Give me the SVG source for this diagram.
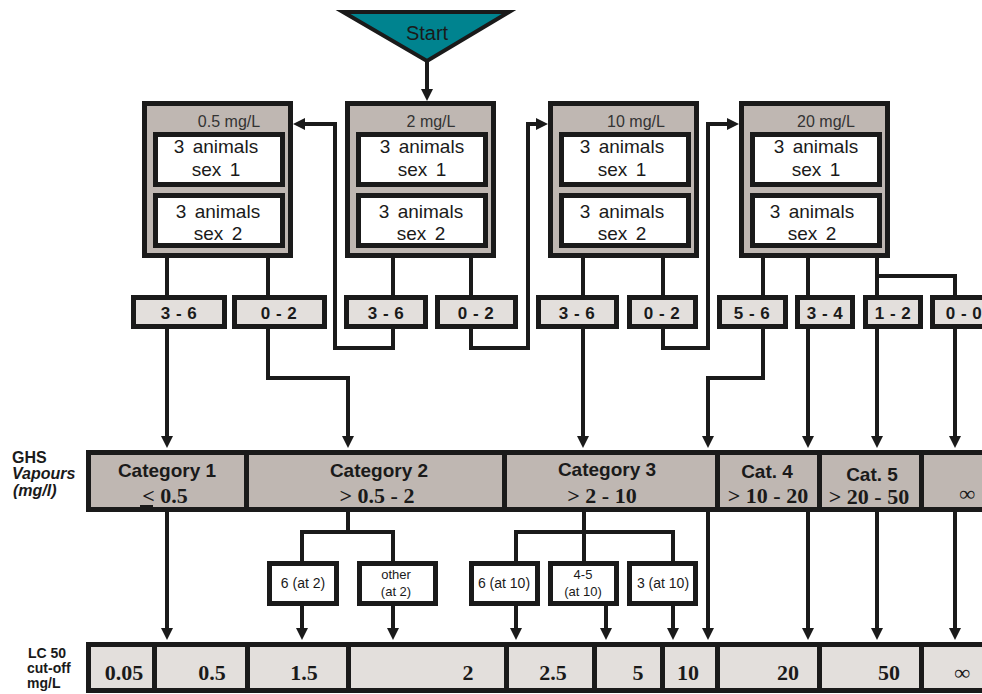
<svg xmlns="http://www.w3.org/2000/svg" width="982" height="694" viewBox="0 0 982 694">
<defs>
<marker id="ah" markerUnits="userSpaceOnUse" markerWidth="13" markerHeight="13" refX="2" refY="6.5" orient="auto">
<path d="M0,0.5 L12,6.5 L0,12.5 z" fill="#1a1a1a"/>
</marker>
<style>
.frame{fill:#bfb7b2;stroke:#1a1a1a;stroke-width:5}
.inner{fill:#ffffff;stroke:#1a1a1a;stroke-width:5}
.res{fill:#e3dfdc;stroke:#1a1a1a;stroke-width:5}
.cell{fill:#bfb7b2;stroke:#1a1a1a;stroke-width:5}
.lc{fill:#e3dfdc;stroke:#1a1a1a;stroke-width:5}
.sb{fill:#ffffff;stroke:#1a1a1a;stroke-width:5}
.ln{fill:none;stroke:#1a1a1a;stroke-width:4}
.arr{fill:none;stroke:#1a1a1a;stroke-width:4;marker-end:url(#ah)}
.t{font-family:"Liberation Sans",Arial,sans-serif;fill:#1a1a1a;text-anchor:middle}
.ttl{font-size:16px;fill:#333333}
.an{font-size:19px;word-spacing:3px}
.rt{font-size:17px;font-weight:bold;letter-spacing:0.5px}
.cat{font-size:19px;font-weight:bold}
.rng{font-family:"Liberation Serif","Times New Roman",serif;font-size:22px;font-weight:bold;fill:#1a1a1a;text-anchor:middle}
.sm{font-size:14px}
.sm2{font-size:13px}
.lbl{font-family:"Liberation Sans",Arial,sans-serif;font-weight:bold;fill:#1a1a1a}
</style>
</defs>

<g id="connectors">
<line class="arr" x1="427" y1="62" x2="427" y2="91"/>
<polyline class="arr" points="393,258 393,348 335,348 335,124 303,124"/>
<polyline class="arr" points="471,258 471,348 528,348 528,124 538,124"/>
<polyline class="arr" points="663,258 663,348 708,348 708,124 729,124"/>
<polyline class="arr" points="167,258 167,438"/>
<polyline class="arr" points="268,258 268,378 348,378 348,438"/>
<polyline class="arr" points="583,258 583,438"/>
<polyline class="arr" points="763,258 763,378 708,378 708,438"/>
<polyline class="arr" points="808,258 808,438"/>
<polyline class="arr" points="877,258 877,438"/>
<polyline class="arr" points="877,276 955,276 955,438"/>
<polyline class="arr" points="167,512 167,630"/>
<polyline class="ln" points="348,512 348,532"/>
<polyline class="ln" points="302,561 302,532 393,532 393,561"/>
<polyline class="arr" points="302,606 302,630"/>
<polyline class="arr" points="393,606 393,630"/>
<polyline class="ln" points="584,512 584,561"/>
<polyline class="ln" points="516,561 516,532 673,532 673,561"/>
<polyline class="arr" points="516,606 516,630"/>
<polyline class="arr" points="606,606 606,630"/>
<polyline class="arr" points="673,606 673,630"/>
<polyline class="arr" points="708,512 708,630"/>
<polyline class="arr" points="808,512 808,630"/>
<polyline class="arr" points="877,512 877,630"/>
<polyline class="arr" points="955,512 955,630"/>
</g>

<g id="start">
<polygon points="343,12 509,12 427,61" fill="#00838f" stroke="#1a1a1a" stroke-width="4" stroke-linejoin="miter"/>
<text class="t" x="427" y="40" font-size="20" fill="#222222">Start</text>
</g>

<g id="dose-0.5">
<rect class="frame" x="144.5" y="103.5" width="146" height="152"/>
<text class="t ttl" x="229" y="127">0.5 mg/L</text>
<rect class="inner" x="155.5" y="134.5" width="127" height="50"/>
<text class="t an" x="216" y="153">3 animals</text>
<text class="t an" x="216" y="176">sex 1</text>
<rect class="inner" x="155.5" y="195.5" width="127" height="50"/>
<text class="t an" x="218" y="218">3 animals</text>
<text class="t an" x="218" y="240">sex 2</text>
</g>

<g id="dose-2">
<rect class="frame" x="347.5" y="103.5" width="146" height="152"/>
<text class="t ttl" x="431" y="127">2  mg/L</text>
<rect class="inner" x="358.5" y="134.5" width="127" height="50"/>
<text class="t an" x="422" y="153">3 animals</text>
<text class="t an" x="422" y="176">sex 1</text>
<rect class="inner" x="358.5" y="195.5" width="127" height="50"/>
<text class="t an" x="421" y="218">3 animals</text>
<text class="t an" x="421" y="240">sex 2</text>
</g>

<g id="dose-10">
<rect class="frame" x="550.5" y="103.5" width="146" height="152"/>
<text class="t ttl" x="636" y="127">10 mg/L</text>
<rect class="inner" x="561.5" y="134.5" width="127" height="50"/>
<text class="t an" x="622" y="153">3 animals</text>
<text class="t an" x="622" y="176">sex 1</text>
<rect class="inner" x="561.5" y="195.5" width="127" height="50"/>
<text class="t an" x="622" y="218">3 animals</text>
<text class="t an" x="622" y="240">sex 2</text>
</g>

<g id="dose-20">
<rect class="frame" x="741.5" y="103.5" width="146" height="152"/>
<text class="t ttl" x="826" y="127">20 mg/L</text>
<rect class="inner" x="752.5" y="134.5" width="127" height="50"/>
<text class="t an" x="816" y="153">3 animals</text>
<text class="t an" x="816" y="176">sex 1</text>
<rect class="inner" x="752.5" y="195.5" width="127" height="50"/>
<text class="t an" x="812" y="218">3 animals</text>
<text class="t an" x="812" y="240">sex 2</text>
</g>

<g id="results">
<g id="r-05-36"><rect class="res" x="133.5" y="297.5" width="91" height="29"/><text class="t rt" x="179" y="319">3 - 6</text></g>
<g id="r-05-02"><rect class="res" x="234.5" y="297.5" width="90" height="29"/><text class="t rt" x="279" y="319">0 - 2</text></g>
<g id="r-2-36"><rect class="res" x="346.5" y="297.5" width="79" height="29"/><text class="t rt" x="386" y="319">3 - 6</text></g>
<g id="r-2-02"><rect class="res" x="437.5" y="297.5" width="78" height="29"/><text class="t rt" x="476" y="319">0 - 2</text></g>
<g id="r-10-36"><rect class="res" x="538.5" y="297.5" width="78" height="29"/><text class="t rt" x="577" y="319">3 - 6</text></g>
<g id="r-10-02"><rect class="res" x="629.5" y="297.5" width="66" height="29"/><text class="t rt" x="662" y="319">0 - 2</text></g>
<g id="r-20-56"><rect class="res" x="719.5" y="297.5" width="66" height="29"/><text class="t rt" x="752" y="319">5 - 6</text></g>
<g id="r-20-34"><rect class="res" x="797.5" y="297.5" width="55" height="29"/><text class="t rt" x="825" y="319">3 - 4</text></g>
<g id="r-20-12"><rect class="res" x="865.5" y="297.5" width="55" height="29"/><text class="t rt" x="893" y="319">1 - 2</text></g>
<g id="r-20-00"><rect class="res" x="932.5" y="297.5" width="62" height="29"/><text class="t rt" x="964" y="319">0 - 0</text></g>
</g>

<g id="ghs-label">
<text class="lbl" x="12" y="463" font-size="16">GHS</text>
<text class="lbl" x="12" y="479" font-size="16" font-style="italic">Vapours</text>
<text class="lbl" x="13" y="496" font-size="16" font-style="italic">(mg/l)</text>
</g>

<g id="categories">
<g id="cat1"><rect class="cell" x="88.5" y="452.5" width="158" height="57"/>
<text class="t cat" x="167" y="477">Category 1</text>
<text class="rng" x="165" y="503">&lt; 0.5</text>
<rect x="140" y="505" width="13" height="4" fill="#1a1a1a"/></g>
<g id="cat2"><rect class="cell" x="246.5" y="452.5" width="258" height="57"/>
<text class="t cat" x="379" y="477">Category 2</text>
<text class="rng" x="377" y="503">&gt; 0.5 - 2</text></g>
<g id="cat3"><rect class="cell" x="504.5" y="452.5" width="213" height="57"/>
<text class="t cat" x="607" y="476">Category 3</text>
<text class="rng" x="602" y="503">&gt; 2 - 10</text></g>
<g id="cat4"><rect class="cell" x="717.5" y="452.5" width="102" height="57"/>
<text class="t cat" x="767" y="478">Cat. 4</text>
<text class="rng" x="768" y="503">&gt; 10 - 20</text></g>
<g id="cat5"><rect class="cell" x="819.5" y="452.5" width="102" height="57"/>
<text class="t cat" x="872" y="481">Cat. 5</text>
<text class="rng" x="869" y="504">&gt; 20 - 50</text></g>
<g id="cat-inf"><rect class="cell" x="921.5" y="452.5" width="75" height="57"/>
<text class="rng" x="967" y="501" font-size="20">∞</text></g>
</g>

<g id="sub-boxes">
<g id="s-6at2"><rect class="sb" x="269.5" y="563.5" width="67" height="40"/><text class="t sm" x="303" y="588">6 (at 2)</text></g>
<g id="s-other"><rect class="sb" x="359.5" y="563.5" width="76" height="40"/><text class="t sm2" x="396" y="579">other</text><text class="t sm2" x="396" y="596">(at 2)</text></g>
<g id="s-6at10"><rect class="sb" x="471.5" y="563.5" width="66" height="40"/><text class="t sm" x="504" y="588">6 (at 10)</text></g>
<g id="s-45at10"><rect class="sb" x="550.5" y="563.5" width="66" height="40"/><text class="t sm2" x="583" y="579">4-5</text><text class="t sm2" x="583" y="596">(at 10)</text></g>
<g id="s-3at10"><rect class="sb" x="629.5" y="563.5" width="66" height="40"/><text class="t sm" x="663" y="588">3 (at 10)</text></g>
</g>

<g id="lc-label">
<text class="lbl" x="28" y="658" font-size="14">LC 50</text>
<text class="lbl" x="27" y="673" font-size="14">cut-off</text>
<text class="lbl" x="27" y="688" font-size="14">mg/L</text>
</g>

<g id="lc-row">
<rect class="lc" x="88.5" y="644.5" width="66" height="46"/><text class="rng" x="124" y="680">0.05</text>
<rect class="lc" x="154.5" y="644.5" width="93" height="46"/><text class="rng" x="212" y="680">0.5</text>
<rect class="lc" x="247.5" y="644.5" width="101" height="46"/><text class="rng" x="304" y="680">1.5</text>
<rect class="lc" x="348.5" y="644.5" width="158" height="46"/><text class="rng" x="468" y="680">2</text>
<rect class="lc" x="506.5" y="644.5" width="88" height="46"/><text class="rng" x="553" y="680">2.5</text>
<rect class="lc" x="594.5" y="644.5" width="68" height="46"/><text class="rng" x="638" y="680">5</text>
<rect class="lc" x="662.5" y="644.5" width="55" height="46"/><text class="rng" x="688" y="680">10</text>
<rect class="lc" x="717.5" y="644.5" width="102" height="46"/><text class="rng" x="788" y="680">20</text>
<rect class="lc" x="819.5" y="644.5" width="102" height="46"/><text class="rng" x="889" y="680">50</text>
<rect class="lc" x="921.5" y="644.5" width="75" height="46"/><text class="rng" x="962" y="680" font-size="20">∞</text>
</g>
</svg>
